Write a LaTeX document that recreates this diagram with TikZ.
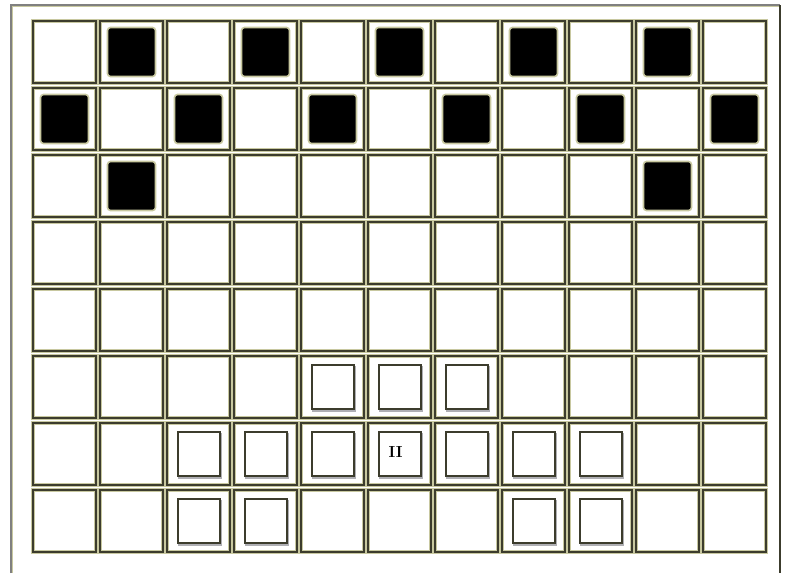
\documentclass[tikz,border=0pt]{standalone}
\begin{document}
\begin{tikzpicture}[x=1pt,y=-1pt,
  cellbox/.style={rectangle,inner sep=0,outer sep=0,minimum width=63pt,minimum height=62pt,
    preaction={draw=khakic,line width=4pt},draw=darkol,line width=2.2pt},
  blackbox/.style={rectangle,inner sep=0,outer sep=0,minimum width=48pt,minimum height=49pt,
    rounded corners=3pt,fill=black,draw=khakic,line width=1.6pt},
  innerbox/.style={rectangle,inner sep=0,outer sep=0,minimum width=42pt,minimum height=44pt,
    preaction={draw=shadowc,line width=2pt,transform canvas={shift={(1pt,-1.5pt)}}},
    fill=white,draw=darkol,line width=2pt},
  numtext/.style={font=\bfseries\fontsize{16}{16}\selectfont,inner sep=0}]
\definecolor{khakic}{RGB}{200,200,160}
\definecolor{darkol}{RGB}{60,60,45}
\definecolor{shadowc}{RGB}{175,175,180}
\useasboundingbox (0,0) rectangle (786,573);
\fill[white] (0,0) rectangle (786,573);
% outer frame
\coordinate (fbl) at (11,573);
\coordinate (ftl) at (11,5);
\coordinate (ftr) at (780,5);
\coordinate (fbr) at (780,573);
\draw[khakic,line width=3pt] (fbl) -- (ftl) -- (ftr);
\draw[gray,line width=1.5pt] (fbl) -- (ftl) -- (ftr);
\draw[darkol,line width=2pt] (ftr) -- (fbr);
% cells
\foreach \r in {1,...,8}{
  \foreach \c in {1,...,11}{
    \node[cellbox] (cell-\r-\c) at ({33+67*(\c-1)+31.5},{21+67*(\r-1)+31}) {};
  }
}
% black squares
\foreach \r/\c in {1/2,1/4,1/6,1/8,1/10,2/1,2/3,2/5,2/7,2/9,2/11,3/2,3/10}{
  \node[blackbox] (blk-\r-\c) at (cell-\r-\c.center) {};
}
% inner white boxes
\foreach \r/\c in {6/5,6/6,6/7,7/3,7/4,7/5,7/6,7/7,7/8,7/9,8/3,8/4,8/8,8/9}{
  \node[innerbox] (inb-\r-\c) at (cell-\r-\c.center) {};
}
\node[numtext] (num) at ([xshift=-4pt,yshift=2pt]inb-7-6.center) {II};
\end{tikzpicture}
\end{document}
